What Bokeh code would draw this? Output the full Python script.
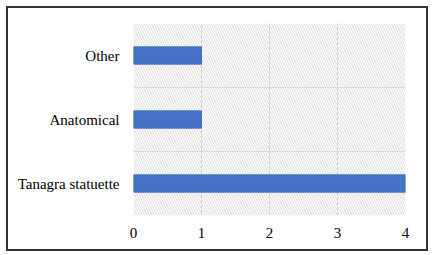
from bokeh.plotting import figure
from bokeh.models import Range1d, FixedTicker, BoxAnnotation, InlineStyleSheet
from bokeh.embed import file_html
from bokeh.resources import INLINE

categories = ["Tanagra statuette", "Anatomical", "Other"]
values = [4, 1, 1]
x_ticks = [0, 1, 2, 3, 4]

positions = [i + 0.5 for i in range(len(categories))]

frame_css = InlineStyleSheet(css="""
:host { position: relative; }
:host::after {
  content: "";
  position: absolute;
  left: 6px; top: 6px;
  width: 418px; height: 241px;
  border: 2px solid #333333;
  pointer-events: none;
  z-index: 100;
}
""")

p = figure(width=432, height=255, output_backend="svg", toolbar_location=None,
           x_range=Range1d(0, 4), y_range=Range1d(0, 3),
           min_border_left=133, min_border_right=27, min_border_top=23, min_border_bottom=40,
           stylesheets=[frame_css])
p.frame_width = 272
p.frame_height = 192
p.outline_line_color = None
p.background_fill_color = "white"
p.border_fill_color = "white"

hatch = BoxAnnotation(fill_alpha=0, line_alpha=0, hatch_pattern="\\", hatch_color="#d9d9d9",
                      hatch_scale=5, hatch_weight=1, level="image")
p.add_layout(hatch)

p.hbar(y=positions, right=values, left=0, height=0.27, color="#4472C4")

p.xaxis.ticker = FixedTicker(ticks=x_ticks)
p.yaxis.ticker = FixedTicker(ticks=positions)
p.yaxis.major_label_overrides = {pos: c for pos, c in zip(positions, categories)}
for ax in (p.xaxis[0], p.yaxis[0]):
    ax.axis_line_color = None
    ax.major_tick_line_color = None
    ax.minor_tick_line_color = None
    ax.major_label_text_font = "Liberation Serif"
    ax.major_label_text_font_size = "15px"
    ax.major_label_text_color = "#000000"
p.yaxis.major_label_standoff = 8
p.xaxis.major_label_standoff = 6

p.xgrid.ticker = FixedTicker(ticks=x_ticks)
p.ygrid.ticker = FixedTicker(ticks=[0, 1, 2, 3])
p.xgrid.grid_line_color = "#d9d9d9"
p.ygrid.grid_line_color = "#d9d9d9"
p.xgrid.grid_line_width = 1
p.ygrid.grid_line_width = 1

open("out.html", "w").write(file_html(p, INLINE))
